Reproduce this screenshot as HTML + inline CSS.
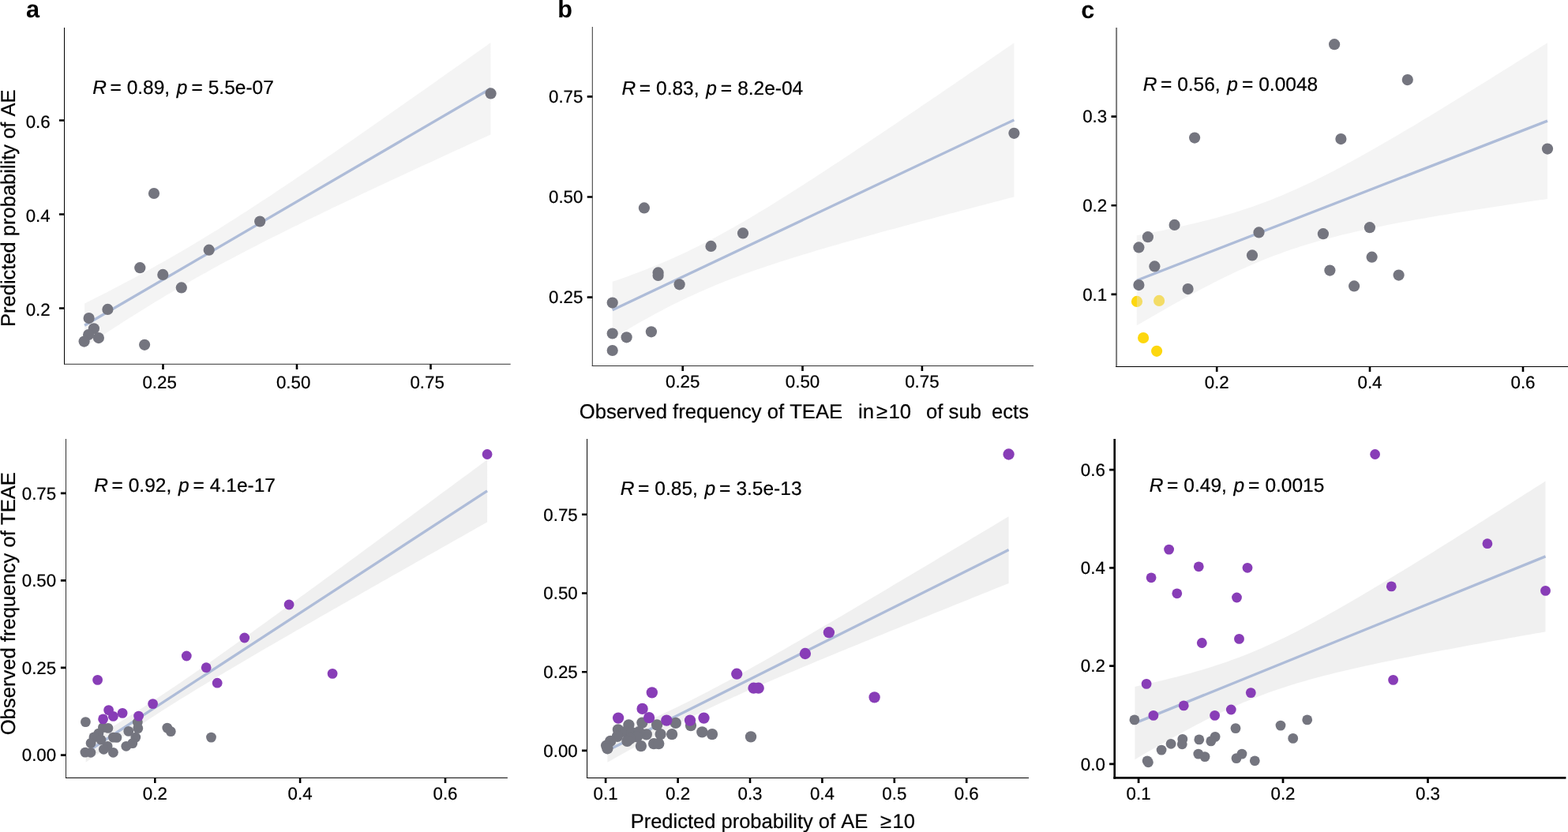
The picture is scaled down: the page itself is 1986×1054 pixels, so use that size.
<!DOCTYPE html>
<html lang="en"><head><meta charset="utf-8"><title>Correlation of predicted AE probability and observed TEAE frequency</title>
<style>
html,body{margin:0;padding:0;background:#fff;}
body{width:1986px;height:1054px;overflow:hidden;}
svg{display:block;font-family:"Liberation Sans",Arial,Helvetica,sans-serif;fill:#000;}
text{stroke:#000;stroke-width:0.22px;stroke-linejoin:round;text-rendering:geometricPrecision;font-kerning:none;font-variant-ligatures:none;}
.tick text{font-size:22.3px;}
.ann{font-size:24.5px;}
.it{font-style:italic;}
.title{font-size:25.5px;}
.lab{font-size:30.7px;font-weight:bold;stroke:none;}
</style></head><body>
<svg width="1986" height="1054" viewBox="0 0 1986 1054">
<rect width="1986" height="1054" fill="#fff"/>
<g id="panel-a">
<path d="M107.1 384.52 L113.53 381.29 L119.96 378.04 L126.39 374.77 L132.81 371.47 L139.24 368.16 L145.67 364.82 L152.1 361.45 L158.53 358.06 L164.96 354.65 L171.39 351.2 L177.82 347.73 L184.25 344.22 L190.67 340.69 L197.1 337.12 L203.53 333.52 L209.96 329.88 L216.39 326.21 L222.82 322.51 L229.25 318.77 L235.67 315 L242.1 311.19 L248.53 307.35 L254.96 303.47 L261.39 299.57 L267.82 295.62 L274.25 291.65 L280.68 287.65 L287.1 283.61 L293.53 279.55 L299.96 275.46 L306.39 271.34 L312.82 267.19 L319.25 263.03 L325.68 258.84 L332.11 254.62 L338.53 250.39 L344.96 246.14 L351.39 241.87 L357.82 237.58 L364.25 233.27 L370.68 228.95 L377.11 224.61 L383.54 220.26 L389.96 215.9 L396.39 211.53 L402.82 207.14 L409.25 202.74 L415.68 198.33 L422.11 193.91 L428.54 189.49 L434.97 185.05 L441.39 180.61 L447.82 176.16 L454.25 171.7 L460.68 167.23 L467.11 162.76 L473.54 158.28 L479.97 153.79 L486.4 149.3 L492.82 144.81 L499.25 140.31 L505.68 135.8 L512.11 131.29 L518.54 126.78 L524.97 122.26 L531.4 117.74 L537.83 113.21 L544.25 108.69 L550.68 104.15 L557.11 99.62 L563.54 95.08 L569.97 90.54 L576.4 86 L582.83 81.45 L589.26 76.9 L595.68 72.35 L602.11 67.79 L608.54 63.24 L614.97 58.68 L621.4 54.12 L621.4 170.48 L614.97 173.42 L608.54 176.36 L602.11 179.3 L595.68 182.24 L589.26 185.19 L582.83 188.14 L576.4 191.09 L569.97 194.04 L563.54 197 L557.11 199.96 L550.68 202.92 L544.25 205.88 L537.83 208.85 L531.4 211.82 L524.97 214.8 L518.54 217.78 L512.11 220.76 L505.68 223.75 L499.25 226.74 L492.82 229.74 L486.4 232.74 L479.97 235.75 L473.54 238.76 L467.11 241.78 L460.68 244.81 L454.25 247.84 L447.82 250.88 L441.39 253.92 L434.97 256.98 L428.54 260.04 L422.11 263.11 L415.68 266.19 L409.25 269.28 L402.82 272.38 L396.39 275.49 L389.96 278.61 L383.54 281.74 L377.11 284.89 L370.68 288.05 L364.25 291.23 L357.82 294.42 L351.39 297.63 L344.96 300.85 L338.53 304.1 L332.11 307.36 L325.68 310.65 L319.25 313.96 L312.82 317.29 L306.39 320.64 L299.96 324.02 L293.53 327.43 L287.1 330.86 L280.68 334.32 L274.25 337.82 L267.82 341.34 L261.39 344.89 L254.96 348.48 L248.53 352.1 L242.1 355.76 L235.67 359.45 L229.25 363.17 L222.82 366.93 L216.39 370.73 L209.96 374.56 L203.53 378.42 L197.1 382.32 L190.67 386.25 L184.25 390.21 L177.82 394.2 L171.39 398.22 L164.96 402.28 L158.53 406.36 L152.1 410.46 L145.67 414.6 L139.24 418.76 L132.81 422.94 L126.39 427.14 L119.96 431.37 L113.53 435.61 L107.1 439.88Z" fill="rgba(228,228,228,0.41)"/>
<line x1="107.1" y1="412.2" x2="621.4" y2="112.3" stroke="#aebcd8" stroke-width="3.3"/>
<g fill="#74757f"><circle cx="621.6" cy="118.4" r="7.1"/><circle cx="195" cy="245" r="7.1"/><circle cx="329.2" cy="280.5" r="7.1"/><circle cx="264.7" cy="316.7" r="7.1"/><circle cx="177.3" cy="339.2" r="7.1"/><circle cx="206.3" cy="347.9" r="7.1"/><circle cx="229.8" cy="364.4" r="7.1"/><circle cx="136.4" cy="391.9" r="7.1"/><circle cx="112.6" cy="403.1" r="7.1"/><circle cx="118.9" cy="416.3" r="7.1"/><circle cx="112.1" cy="424.1" r="7.1"/><circle cx="124.9" cy="428.1" r="7.1"/><circle cx="106.6" cy="432.6" r="7.1"/><circle cx="183.1" cy="436.8" r="7.1"/></g>
<line x1="81.5" y1="35" x2="81.5" y2="461.8" stroke="#000" stroke-width="1"/>
<line x1="81" y1="461.3" x2="646.7" y2="461.3" stroke="#333" stroke-width="1"/>
<path d="M206.5 461.3v6.6M376 461.3v6.6M545.5 461.3v6.6M81.5 152.5h-6.6M81.5 271.5h-6.6M81.5 390.5h-6.6" stroke="#000" stroke-width="2.6" fill="none"/>
<g class="tick" text-anchor="middle">
<text transform="translate(202.1 492.3) scale(1 1.0)">0.25</text>
<text transform="translate(371.6 492.3) scale(1 1.0)">0.50</text>
<text transform="translate(541.1 492.3) scale(1 1.0)">0.75</text>
</g>
<g class="tick" text-anchor="end">
<text transform="translate(63.7 162.3) scale(1 1.0)">0.6</text>
<text transform="translate(63.7 281.3) scale(1 1.0)">0.4</text>
<text transform="translate(63.7 400.3) scale(1 1.0)">0.2</text>
</g>
<text class="ann" transform="translate(0 119.3) scale(1 1.0)"><tspan class="it" x="117.14">R</tspan><tspan x="139.4">=</tspan><tspan x="160.64">0.89,</tspan><tspan class="it" x="223.81">p</tspan><tspan x="242.4">=</tspan><tspan x="263.74">5.5e-07</tspan></text>
</g>
<g id="panel-b">
<path d="M775.7 356.85 L782.06 354.66 L788.42 352.42 L794.78 350.14 L801.13 347.81 L807.49 345.43 L813.85 343.01 L820.21 340.52 L826.57 337.99 L832.93 335.39 L839.29 332.73 L845.65 330 L852.01 327.21 L858.36 324.35 L864.72 321.43 L871.08 318.43 L877.44 315.36 L883.8 312.23 L890.16 309.02 L896.52 305.75 L902.88 302.41 L909.23 299.02 L915.59 295.56 L921.95 292.04 L928.31 288.46 L934.67 284.84 L941.03 281.16 L947.39 277.44 L953.75 273.67 L960.1 269.86 L966.46 266.02 L972.82 262.14 L979.18 258.22 L985.54 254.28 L991.9 250.3 L998.26 246.3 L1004.62 242.27 L1010.97 238.22 L1017.33 234.15 L1023.69 230.06 L1030.05 225.95 L1036.41 221.82 L1042.77 217.68 L1049.13 213.52 L1055.49 209.34 L1061.84 205.16 L1068.2 200.96 L1074.56 196.75 L1080.92 192.53 L1087.28 188.3 L1093.64 184.06 L1100 179.81 L1106.36 175.55 L1112.71 171.29 L1119.07 167.02 L1125.43 162.74 L1131.79 158.45 L1138.15 154.16 L1144.51 149.87 L1150.87 145.56 L1157.23 141.25 L1163.58 136.94 L1169.94 132.62 L1176.3 128.3 L1182.66 123.98 L1189.02 119.65 L1195.38 115.31 L1201.74 110.98 L1208.1 106.64 L1214.45 102.29 L1220.81 97.95 L1227.17 93.6 L1233.53 89.24 L1239.89 84.89 L1246.25 80.53 L1252.61 76.17 L1258.97 71.81 L1265.32 67.45 L1271.68 63.08 L1278.04 58.71 L1284.4 54.34 L1284.4 249.46 L1278.04 251.11 L1271.68 252.77 L1265.32 254.42 L1258.97 256.08 L1252.61 257.74 L1246.25 259.4 L1239.89 261.07 L1233.53 262.74 L1227.17 264.41 L1220.81 266.08 L1214.45 267.75 L1208.1 269.43 L1201.74 271.12 L1195.38 272.8 L1189.02 274.49 L1182.66 276.18 L1176.3 277.88 L1169.94 279.58 L1163.58 281.29 L1157.23 283 L1150.87 284.71 L1144.51 286.43 L1138.15 288.16 L1131.79 289.89 L1125.43 291.62 L1119.07 293.37 L1112.71 295.12 L1106.36 296.88 L1100 298.64 L1093.64 300.42 L1087.28 302.2 L1080.92 303.99 L1074.56 305.79 L1068.2 307.6 L1061.84 309.43 L1055.49 311.27 L1049.13 313.11 L1042.77 314.98 L1036.41 316.86 L1030.05 318.75 L1023.69 320.66 L1017.33 322.6 L1010.97 324.55 L1004.62 326.52 L998.26 328.51 L991.9 330.53 L985.54 332.58 L979.18 334.66 L972.82 336.77 L966.46 338.91 L960.1 341.08 L953.75 343.3 L947.39 345.55 L941.03 347.85 L934.67 350.2 L928.31 352.6 L921.95 355.05 L915.59 357.55 L909.23 360.11 L902.88 362.74 L896.52 365.42 L890.16 368.17 L883.8 370.99 L877.44 373.88 L871.08 376.83 L864.72 379.86 L858.36 382.95 L852.01 386.12 L845.65 389.35 L839.29 392.65 L832.93 396.01 L826.57 399.43 L820.21 402.92 L813.85 406.46 L807.49 410.06 L801.13 413.7 L794.78 417.4 L788.42 421.14 L782.06 424.92 L775.7 428.75Z" fill="rgba(228,228,228,0.41)"/>
<line x1="775.7" y1="392.8" x2="1284.4" y2="151.9" stroke="#aebcd8" stroke-width="3.3"/>
<g fill="#74757f"><circle cx="1284.4" cy="168.8" r="7.1"/><circle cx="815.9" cy="263.4" r="7.1"/><circle cx="941" cy="295.4" r="7.1"/><circle cx="900.5" cy="311.9" r="7.1"/><circle cx="833.6" cy="345.4" r="7.1"/><circle cx="833.6" cy="348.9" r="7.1"/><circle cx="860.6" cy="360.3" r="7.1"/><circle cx="775.7" cy="383.6" r="7.1"/><circle cx="775.7" cy="422.5" r="7.1"/><circle cx="793.6" cy="427.3" r="7.1"/><circle cx="824.9" cy="420.3" r="7.1"/><circle cx="775.7" cy="444" r="7.1"/></g>
<line x1="750.3" y1="34" x2="750.3" y2="464" stroke="#333" stroke-width="1"/>
<line x1="749.8" y1="463.5" x2="1309.1" y2="463.5" stroke="#333" stroke-width="1"/>
<path d="M864.7 463.5v6.6M1016.5 463.5v6.6M1167.9 463.5v6.6M750.3 122.4h-6.6M750.3 249.5h-6.6M750.3 376.6h-6.6" stroke="#000" stroke-width="2.6" fill="none"/>
<g class="tick" text-anchor="middle">
<text transform="translate(864.7 491.2) scale(1 1.0)">0.25</text>
<text transform="translate(1016.5 491.2) scale(1 1.0)">0.50</text>
<text transform="translate(1167.9 491.2) scale(1 1.0)">0.75</text>
</g>
<g class="tick" text-anchor="end">
<text transform="translate(738.4 130.2) scale(1 1.0)">0.75</text>
<text transform="translate(738.4 257.3) scale(1 1.0)">0.50</text>
<text transform="translate(738.4 384.4) scale(1 1.0)">0.25</text>
</g>
<text class="ann" transform="translate(0 119.6) scale(1 1.0)"><tspan class="it" x="787.54">R</tspan><tspan x="809.8">=</tspan><tspan x="831.04">0.83,</tspan><tspan class="it" x="894.21">p</tspan><tspan x="912.8">=</tspan><tspan x="934.14">8.2e-04</tspan></text>
</g>
<g id="panel-c">
<g fill="#fdd70e"><circle cx="1440" cy="381.9" r="7.1"/><circle cx="1468.1" cy="380.9" r="7.1"/><circle cx="1448.1" cy="428" r="7.1"/><circle cx="1465.1" cy="444.8" r="7.1"/></g>
<path d="M1439.9 298.26 L1446.4 297.04 L1452.9 295.79 L1459.4 294.52 L1465.91 293.23 L1472.41 291.91 L1478.91 290.56 L1485.41 289.18 L1491.91 287.76 L1498.41 286.31 L1504.91 284.82 L1511.41 283.29 L1517.91 281.72 L1524.42 280.1 L1530.92 278.43 L1537.42 276.7 L1543.92 274.92 L1550.42 273.08 L1556.92 271.18 L1563.42 269.21 L1569.93 267.18 L1576.43 265.07 L1582.93 262.89 L1589.43 260.63 L1595.93 258.29 L1602.43 255.88 L1608.93 253.38 L1615.43 250.81 L1621.93 248.16 L1628.44 245.43 L1634.94 242.62 L1641.44 239.73 L1647.94 236.77 L1654.44 233.74 L1660.94 230.64 L1667.44 227.48 L1673.95 224.25 L1680.45 220.97 L1686.95 217.63 L1693.45 214.24 L1699.95 210.79 L1706.45 207.31 L1712.95 203.77 L1719.45 200.2 L1725.95 196.59 L1732.46 192.95 L1738.96 189.27 L1745.46 185.56 L1751.96 181.82 L1758.46 178.05 L1764.96 174.26 L1771.46 170.45 L1777.97 166.62 L1784.47 162.76 L1790.97 158.89 L1797.47 155 L1803.97 151.09 L1810.47 147.16 L1816.97 143.23 L1823.47 139.27 L1829.97 135.31 L1836.48 131.33 L1842.98 127.35 L1849.48 123.35 L1855.98 119.34 L1862.48 115.33 L1868.98 111.3 L1875.48 107.27 L1881.99 103.23 L1888.49 99.18 L1894.99 95.12 L1901.49 91.06 L1907.99 86.99 L1914.49 82.92 L1920.99 78.84 L1927.49 74.75 L1933.99 70.66 L1940.5 66.57 L1947 62.47 L1953.5 58.36 L1960 54.25 L1960 251.95 L1953.5 252.89 L1947 253.84 L1940.5 254.8 L1933.99 255.76 L1927.49 256.72 L1920.99 257.69 L1914.49 258.67 L1907.99 259.65 L1901.49 260.64 L1894.99 261.63 L1888.49 262.63 L1881.99 263.63 L1875.48 264.65 L1868.98 265.67 L1862.48 266.7 L1855.98 267.74 L1849.48 268.78 L1842.98 269.84 L1836.48 270.91 L1829.97 271.99 L1823.47 273.08 L1816.97 274.18 L1810.47 275.3 L1803.97 276.43 L1797.47 277.58 L1790.97 278.74 L1784.47 279.92 L1777.97 281.12 L1771.46 282.34 L1764.96 283.59 L1758.46 284.85 L1751.96 286.14 L1745.46 287.46 L1738.96 288.8 L1732.46 290.18 L1725.95 291.59 L1719.45 293.03 L1712.95 294.52 L1706.45 296.04 L1699.95 297.61 L1693.45 299.22 L1686.95 300.88 L1680.45 302.6 L1673.95 304.37 L1667.44 306.2 L1660.94 308.09 L1654.44 310.04 L1647.94 312.07 L1641.44 314.16 L1634.94 316.33 L1628.44 318.58 L1621.93 320.9 L1615.43 323.3 L1608.93 325.79 L1602.43 328.35 L1595.93 330.99 L1589.43 333.71 L1582.93 336.5 L1576.43 339.38 L1569.93 342.32 L1563.42 345.34 L1556.92 348.43 L1550.42 351.58 L1543.92 354.8 L1537.42 358.07 L1530.92 361.4 L1524.42 364.79 L1517.91 368.22 L1511.41 371.7 L1504.91 375.23 L1498.41 378.79 L1491.91 382.4 L1485.41 386.04 L1478.91 389.71 L1472.41 393.42 L1465.91 397.15 L1459.4 400.91 L1452.9 404.7 L1446.4 408.51 L1439.9 412.34Z" fill="rgba(228,228,228,0.41)"/>
<line x1="1439.9" y1="355.3" x2="1960" y2="153.1" stroke="#aebcd8" stroke-width="3.3"/>
<g fill="#74757f"><circle cx="1690.1" cy="56.2" r="7.1"/><circle cx="1782.8" cy="101.1" r="7.1"/><circle cx="1513.1" cy="174.6" r="7.1"/><circle cx="1698.4" cy="176.1" r="7.1"/><circle cx="1960" cy="188.6" r="7.1"/><circle cx="1487.6" cy="284.9" r="7.1"/><circle cx="1453.9" cy="300.2" r="7.1"/><circle cx="1442.4" cy="313.4" r="7.1"/><circle cx="1462.4" cy="337.4" r="7.1"/><circle cx="1442.4" cy="361.1" r="7.1"/><circle cx="1504.6" cy="366.1" r="7.1"/><circle cx="1594.5" cy="294.4" r="7.1"/><circle cx="1586" cy="323.4" r="7.1"/><circle cx="1675.9" cy="296.2" r="7.1"/><circle cx="1734.9" cy="288.2" r="7.1"/><circle cx="1737.6" cy="325.7" r="7.1"/><circle cx="1684.4" cy="342.6" r="7.1"/><circle cx="1715.1" cy="362.4" r="7.1"/><circle cx="1771.6" cy="348.6" r="7.1"/></g>
<line x1="1414.1" y1="35" x2="1414.1" y2="465" stroke="#7a7a7a" stroke-width="2.0"/>
<line x1="1413.1" y1="464.5" x2="1986" y2="464.5" stroke="#000" stroke-width="1"/>
<path d="M1541.2 464.5v6.6M1735 464.5v6.6M1929 464.5v6.6M1414.1 147.6h-6.6M1414.1 260.2h-6.6M1414.1 372.9h-6.6" stroke="#000" stroke-width="2.6" fill="none"/>
<g class="tick" text-anchor="middle">
<text transform="translate(1541.2 492.2) scale(1 1.0)">0.2</text>
<text transform="translate(1735 492.2) scale(1 1.0)">0.4</text>
<text transform="translate(1929 492.2) scale(1 1.0)">0.6</text>
</g>
<g class="tick" text-anchor="end">
<text transform="translate(1402.2 155.4) scale(1 1.0)">0.3</text>
<text transform="translate(1402.2 268) scale(1 1.0)">0.2</text>
<text transform="translate(1402.2 380.7) scale(1 1.0)">0.1</text>
</g>
<text class="ann" transform="translate(0 114.6) scale(1 1.0)"><tspan class="it" x="1447.64">R</tspan><tspan x="1469.9">=</tspan><tspan x="1491.14">0.56,</tspan><tspan class="it" x="1554.31">p</tspan><tspan x="1572.9">=</tspan><tspan x="1594.24">0.0048</tspan></text>
</g>
<g id="panel-d">
<path d="M108.6 941.25 L114.96 937.42 L121.31 933.58 L127.67 929.72 L134.03 925.84 L140.38 921.93 L146.74 918 L153.09 914.04 L159.45 910.05 L165.81 906.04 L172.16 901.99 L178.52 897.91 L184.88 893.8 L191.23 889.66 L197.59 885.49 L203.94 881.28 L210.3 877.04 L216.66 872.78 L223.01 868.48 L229.37 864.15 L235.72 859.8 L242.08 855.42 L248.44 851.02 L254.79 846.6 L261.15 842.15 L267.51 837.69 L273.86 833.21 L280.22 828.71 L286.57 824.2 L292.93 819.67 L299.29 815.13 L305.64 810.58 L312 806.02 L318.36 801.45 L324.71 796.87 L331.07 792.28 L337.42 787.69 L343.78 783.08 L350.14 778.47 L356.49 773.86 L362.85 769.24 L369.21 764.61 L375.56 759.98 L381.92 755.35 L388.27 750.71 L394.63 746.07 L400.99 741.42 L407.34 736.77 L413.7 732.12 L420.06 727.46 L426.41 722.81 L432.77 718.15 L439.12 713.48 L445.48 708.82 L451.84 704.15 L458.19 699.48 L464.55 694.81 L470.91 690.14 L477.26 685.47 L483.62 680.79 L489.98 676.12 L496.33 671.44 L502.69 666.76 L509.04 662.08 L515.4 657.4 L521.76 652.71 L528.11 648.03 L534.47 643.34 L540.83 638.66 L547.18 633.97 L553.54 629.28 L559.89 624.6 L566.25 619.91 L572.61 615.22 L578.96 610.53 L585.32 605.84 L591.67 601.14 L598.03 596.45 L604.39 591.76 L610.74 587.07 L617.1 582.37 L617.1 661.43 L610.74 665.02 L604.39 668.62 L598.03 672.22 L591.67 675.82 L585.32 679.41 L578.96 683.01 L572.61 686.61 L566.25 690.21 L559.89 693.81 L553.54 697.42 L547.18 701.02 L540.83 704.62 L534.47 708.23 L528.11 711.83 L521.76 715.44 L515.4 719.04 L509.04 722.65 L502.69 726.26 L496.33 729.87 L489.98 733.48 L483.62 737.1 L477.26 740.71 L470.91 744.33 L464.55 747.95 L458.19 751.57 L451.84 755.19 L445.48 758.81 L439.12 762.44 L432.77 766.06 L426.41 769.69 L420.06 773.33 L413.7 776.96 L407.34 780.6 L400.99 784.24 L394.63 787.88 L388.27 791.53 L381.92 795.18 L375.56 798.84 L369.21 802.5 L362.85 806.16 L356.49 809.83 L350.14 813.51 L343.78 817.19 L337.42 820.87 L331.07 824.57 L324.71 828.27 L318.36 831.98 L312 835.7 L305.64 839.43 L299.29 843.17 L292.93 846.92 L286.57 850.68 L280.22 854.46 L273.86 858.25 L267.51 862.06 L261.15 865.89 L254.79 869.73 L248.44 873.6 L242.08 877.49 L235.72 881.4 L229.37 885.34 L223.01 889.3 L216.66 893.29 L210.3 897.32 L203.94 901.37 L197.59 905.45 L191.23 909.57 L184.88 913.72 L178.52 917.9 L172.16 922.11 L165.81 926.35 L159.45 930.63 L153.09 934.93 L146.74 939.26 L140.38 943.62 L134.03 948 L127.67 952.41 L121.31 956.84 L114.96 961.29 L108.6 965.75Z" fill="rgba(218,218,218,0.41)"/>
<line x1="108.6" y1="953.5" x2="617.1" y2="621.9" stroke="#aebcd8" stroke-width="3.3"/>
<g fill="#74757f"><circle cx="108.4" cy="914.6" r="6.4"/><circle cx="174.3" cy="915.1" r="6.4"/><circle cx="130.4" cy="921.6" r="6.4"/><circle cx="136.9" cy="922.4" r="6.4"/><circle cx="174.8" cy="922.6" r="6.4"/><circle cx="211.8" cy="922.1" r="6.4"/><circle cx="216.3" cy="926.6" r="6.4"/><circle cx="162.8" cy="926.4" r="6.4"/><circle cx="124.9" cy="929.1" r="6.4"/><circle cx="118.9" cy="933.9" r="6.4"/><circle cx="143.4" cy="934.1" r="6.4"/><circle cx="147.9" cy="934.4" r="6.4"/><circle cx="171.8" cy="934.1" r="6.4"/><circle cx="267.5" cy="934.1" r="6.4"/><circle cx="127.9" cy="937.1" r="6.4"/><circle cx="115.1" cy="941.4" r="6.4"/><circle cx="167.8" cy="941.6" r="6.4"/><circle cx="159.8" cy="945.3" r="6.4"/><circle cx="136.1" cy="945.3" r="6.4"/><circle cx="131.4" cy="949.3" r="6.4"/><circle cx="107.9" cy="953.1" r="6.4"/><circle cx="114.9" cy="953.3" r="6.4"/><circle cx="143.4" cy="953.3" r="6.4"/></g>
<g fill="#883db7"><circle cx="617.1" cy="575.5" r="6.4"/><circle cx="366.1" cy="766" r="6.4"/><circle cx="309.7" cy="808" r="6.4"/><circle cx="236.3" cy="831" r="6.4"/><circle cx="261.2" cy="845.7" r="6.4"/><circle cx="275.2" cy="865.2" r="6.4"/><circle cx="421.1" cy="853.4" r="6.4"/><circle cx="123.6" cy="861.4" r="6.4"/><circle cx="193.6" cy="891.6" r="6.4"/><circle cx="137.6" cy="899.6" r="6.4"/><circle cx="155.1" cy="903.4" r="6.4"/><circle cx="143.4" cy="907.4" r="6.4"/><circle cx="175.6" cy="907.1" r="6.4"/><circle cx="130.6" cy="910.9" r="6.4"/></g>
<line x1="83.5" y1="556" x2="83.5" y2="985.9" stroke="#333" stroke-width="1"/>
<line x1="83" y1="985.4" x2="642.9" y2="985.4" stroke="#000" stroke-width="1"/>
<path d="M196.3 985.4v6.6M380.1 985.4v6.6M564 985.4v6.6M83.5 624.9h-6.6M83.5 735.4h-6.6M83.5 845.9h-6.6M83.5 956.6h-6.6" stroke="#000" stroke-width="2.6" fill="none"/>
<g class="tick" text-anchor="middle">
<text transform="translate(196.3 1013.1) scale(1 1.0)">0.2</text>
<text transform="translate(380.1 1013.1) scale(1 1.0)">0.4</text>
<text transform="translate(564 1013.1) scale(1 1.0)">0.6</text>
</g>
<g class="tick" text-anchor="end">
<text transform="translate(71.15 632.75) scale(1 1.0)">0.75</text>
<text transform="translate(71.15 743.25) scale(1 1.0)">0.50</text>
<text transform="translate(71.15 853.75) scale(1 1.0)">0.25</text>
<text transform="translate(71.15 964.45) scale(1 1.0)">0.00</text>
</g>
<text class="ann" transform="translate(0 623.2) scale(1 1.0)"><tspan class="it" x="119.24">R</tspan><tspan x="141.5">=</tspan><tspan x="162.74">0.92,</tspan><tspan class="it" x="225.91">p</tspan><tspan x="244.5">=</tspan><tspan x="265.84">4.1e-17</tspan></text>
</g>
<g id="panel-e">
<path d="M769.4 935.8 L775.75 933.06 L782.11 930.31 L788.46 927.54 L794.81 924.75 L801.16 921.94 L807.51 919.1 L813.87 916.25 L820.22 913.36 L826.57 910.45 L832.92 907.51 L839.28 904.54 L845.63 901.54 L851.98 898.5 L858.33 895.42 L864.69 892.31 L871.04 889.16 L877.39 885.97 L883.75 882.74 L890.1 879.48 L896.45 876.18 L902.8 872.84 L909.15 869.47 L915.51 866.07 L921.86 862.64 L928.21 859.18 L934.56 855.69 L940.92 852.18 L947.27 848.65 L953.62 845.09 L959.97 841.52 L966.33 837.92 L972.68 834.31 L979.03 830.69 L985.38 827.05 L991.74 823.4 L998.09 819.74 L1004.44 816.07 L1010.79 812.39 L1017.15 808.7 L1023.5 805 L1029.85 801.3 L1036.2 797.59 L1042.56 793.87 L1048.91 790.15 L1055.26 786.42 L1061.62 782.68 L1067.97 778.95 L1074.32 775.2 L1080.67 771.46 L1087.02 767.71 L1093.38 763.95 L1099.73 760.2 L1106.08 756.44 L1112.43 752.67 L1118.79 748.91 L1125.14 745.14 L1131.49 741.37 L1137.84 737.6 L1144.2 733.83 L1150.55 730.05 L1156.9 726.28 L1163.25 722.5 L1169.61 718.72 L1175.96 714.93 L1182.31 711.15 L1188.66 707.37 L1195.02 703.58 L1201.37 699.79 L1207.72 696 L1214.07 692.22 L1220.43 688.42 L1226.78 684.63 L1233.13 680.84 L1239.48 677.05 L1245.84 673.25 L1252.19 669.46 L1258.54 665.66 L1264.89 661.87 L1271.25 658.07 L1277.6 654.27 L1277.6 738.93 L1271.25 741.48 L1264.89 744.04 L1258.54 746.6 L1252.19 749.16 L1245.84 751.72 L1239.48 754.28 L1233.13 756.84 L1226.78 759.41 L1220.43 761.97 L1214.07 764.53 L1207.72 767.1 L1201.37 769.67 L1195.02 772.24 L1188.66 774.8 L1182.31 777.37 L1175.96 779.95 L1169.61 782.52 L1163.25 785.09 L1156.9 787.67 L1150.55 790.25 L1144.2 792.83 L1137.84 795.41 L1131.49 797.99 L1125.14 800.58 L1118.79 803.17 L1112.43 805.76 L1106.08 808.35 L1099.73 810.94 L1093.38 813.54 L1087.02 816.14 L1080.67 818.75 L1074.32 821.36 L1067.97 823.97 L1061.62 826.59 L1055.26 829.21 L1048.91 831.83 L1042.56 834.47 L1036.2 837.1 L1029.85 839.75 L1023.5 842.4 L1017.15 845.05 L1010.79 847.72 L1004.44 850.39 L998.09 853.08 L991.74 855.77 L985.38 858.48 L979.03 861.19 L972.68 863.93 L966.33 866.67 L959.97 869.43 L953.62 872.21 L947.27 875.01 L940.92 877.83 L934.56 880.68 L928.21 883.55 L921.86 886.44 L915.51 889.36 L909.15 892.32 L902.8 895.3 L896.45 898.32 L890.1 901.37 L883.75 904.47 L877.39 907.59 L871.04 910.76 L864.69 913.97 L858.33 917.21 L851.98 920.49 L845.63 923.8 L839.28 927.15 L832.92 930.54 L826.57 933.95 L820.22 937.4 L813.87 940.87 L807.51 944.37 L801.16 947.89 L794.81 951.43 L788.46 955 L782.11 958.58 L775.75 962.18 L769.4 965.8Z" fill="rgba(218,218,218,0.41)"/>
<line x1="769.4" y1="950.8" x2="1277.6" y2="696.6" stroke="#aebcd8" stroke-width="3.3"/>
<g fill="#74757f"><circle cx="855.8" cy="915.9" r="7.15"/><circle cx="813.4" cy="915.6" r="7.15"/><circle cx="832.1" cy="918.4" r="7.15"/><circle cx="796.4" cy="918.4" r="7.15"/><circle cx="875" cy="919.1" r="7.15"/><circle cx="782.9" cy="924.4" r="7.15"/><circle cx="889.3" cy="927.4" r="7.15"/><circle cx="902" cy="930.1" r="7.15"/><circle cx="851.1" cy="930.1" r="7.15"/><circle cx="836.6" cy="930.1" r="7.15"/><circle cx="818.8" cy="930.4" r="7.15"/><circle cx="951" cy="933.4" r="7.15"/><circle cx="791.9" cy="927.1" r="7.15"/><circle cx="800.6" cy="928.4" r="7.15"/><circle cx="809.4" cy="927.1" r="7.15"/><circle cx="806.9" cy="933.4" r="7.15"/><circle cx="781.9" cy="932.9" r="7.15"/><circle cx="798.1" cy="935.9" r="7.15"/><circle cx="794.4" cy="938.9" r="7.15"/><circle cx="773.1" cy="938.9" r="7.15"/><circle cx="811.9" cy="945.1" r="7.15"/><circle cx="828.1" cy="942.1" r="7.15"/><circle cx="834.3" cy="942.1" r="7.15"/><circle cx="768.1" cy="944.6" r="7.15"/><circle cx="769.4" cy="948.3" r="7.15"/></g>
<g fill="#883db7"><circle cx="1277.6" cy="575.5" r="7.15"/><circle cx="1049.9" cy="801.2" r="7.15"/><circle cx="1019.9" cy="828" r="7.15"/><circle cx="933.2" cy="853.7" r="7.15"/><circle cx="954.5" cy="871.7" r="7.15"/><circle cx="960.7" cy="871.7" r="7.15"/><circle cx="1107.6" cy="883.4" r="7.15"/><circle cx="825.8" cy="877.4" r="7.15"/><circle cx="813.6" cy="897.9" r="7.15"/><circle cx="783.1" cy="909.6" r="7.15"/><circle cx="822.1" cy="909.1" r="7.15"/><circle cx="844.3" cy="912.6" r="7.15"/><circle cx="874" cy="912.6" r="7.15"/><circle cx="891.5" cy="909.6" r="7.15"/></g>
<line x1="743.6" y1="556" x2="743.6" y2="986" stroke="#000" stroke-width="1"/>
<line x1="743.1" y1="985.5" x2="1303" y2="985.5" stroke="#000" stroke-width="1"/>
<path d="M767.1 985.5v6.6M858.6 985.5v6.6M950 985.5v6.6M1041.4 985.5v6.6M1132.8 985.5v6.6M1224.2 985.5v6.6M743.6 651.8h-6.6M743.6 751.5h-6.6M743.6 851.2h-6.6M743.6 950.9h-6.6" stroke="#000" stroke-width="2.6" fill="none"/>
<g class="tick" text-anchor="middle">
<text transform="translate(767.1 1013.2) scale(1 1.0)">0.1</text>
<text transform="translate(858.6 1013.2) scale(1 1.0)">0.2</text>
<text transform="translate(950 1013.2) scale(1 1.0)">0.3</text>
<text transform="translate(1041.4 1013.2) scale(1 1.0)">0.4</text>
<text transform="translate(1132.8 1013.2) scale(1 1.0)">0.5</text>
<text transform="translate(1224.2 1013.2) scale(1 1.0)">0.6</text>
</g>
<g class="tick" text-anchor="end">
<text transform="translate(731.7 659.6) scale(1 1.0)">0.75</text>
<text transform="translate(731.7 759.3) scale(1 1.0)">0.50</text>
<text transform="translate(731.7 859) scale(1 1.0)">0.25</text>
<text transform="translate(731.7 958.7) scale(1 1.0)">0.00</text>
</g>
<text class="ann" transform="translate(0 626.6) scale(1 1.0)"><tspan class="it" x="785.84">R</tspan><tspan x="808.1">=</tspan><tspan x="829.34">0.85,</tspan><tspan class="it" x="892.51">p</tspan><tspan x="911.1">=</tspan><tspan x="932.44">3.5e-13</tspan></text>
</g>
<g id="panel-f">
<path d="M1437.4 869.99 L1443.9 868.55 L1450.4 867.08 L1456.9 865.59 L1463.41 864.07 L1469.91 862.51 L1476.41 860.93 L1482.91 859.31 L1489.41 857.65 L1495.91 855.95 L1502.41 854.2 L1508.91 852.4 L1515.41 850.56 L1521.92 848.65 L1528.42 846.69 L1534.92 844.66 L1541.42 842.57 L1547.92 840.4 L1554.42 838.16 L1560.92 835.85 L1567.43 833.45 L1573.93 830.97 L1580.43 828.41 L1586.93 825.77 L1593.43 823.04 L1599.93 820.23 L1606.43 817.33 L1612.93 814.36 L1619.43 811.31 L1625.94 808.19 L1632.44 805 L1638.94 801.73 L1645.44 798.41 L1651.94 795.03 L1658.44 791.59 L1664.94 788.1 L1671.45 784.56 L1677.95 780.98 L1684.45 777.35 L1690.95 773.69 L1697.45 769.99 L1703.95 766.26 L1710.45 762.5 L1716.95 758.71 L1723.45 754.89 L1729.96 751.05 L1736.46 747.19 L1742.96 743.31 L1749.46 739.41 L1755.96 735.49 L1762.46 731.56 L1768.96 727.61 L1775.47 723.65 L1781.97 719.67 L1788.47 715.68 L1794.97 711.68 L1801.47 707.67 L1807.97 703.66 L1814.47 699.63 L1820.97 695.59 L1827.47 691.54 L1833.98 687.49 L1840.48 683.43 L1846.98 679.37 L1853.48 675.29 L1859.98 671.22 L1866.48 667.13 L1872.98 663.04 L1879.49 658.95 L1885.99 654.85 L1892.49 650.75 L1898.99 646.64 L1905.49 642.53 L1911.99 638.42 L1918.49 634.3 L1924.99 630.18 L1931.49 626.05 L1938 621.92 L1944.5 617.79 L1951 613.66 L1957.5 609.52 L1957.5 800.28 L1951 801.42 L1944.5 802.57 L1938 803.72 L1931.49 804.87 L1924.99 806.02 L1918.49 807.18 L1911.99 808.34 L1905.49 809.51 L1898.99 810.68 L1892.49 811.85 L1885.99 813.03 L1879.49 814.21 L1872.98 815.4 L1866.48 816.59 L1859.98 817.78 L1853.48 818.99 L1846.98 820.19 L1840.48 821.41 L1833.98 822.63 L1827.47 823.86 L1820.97 825.09 L1814.47 826.33 L1807.97 827.58 L1801.47 828.85 L1794.97 830.12 L1788.47 831.4 L1781.97 832.69 L1775.47 833.99 L1768.96 835.31 L1762.46 836.64 L1755.96 837.99 L1749.46 839.35 L1742.96 840.73 L1736.46 842.13 L1729.96 843.55 L1723.45 844.99 L1716.95 846.45 L1710.45 847.94 L1703.95 849.46 L1697.45 851.01 L1690.95 852.59 L1684.45 854.21 L1677.95 855.86 L1671.45 857.56 L1664.94 859.3 L1658.44 861.09 L1651.94 862.93 L1645.44 864.83 L1638.94 866.79 L1632.44 868.8 L1625.94 870.89 L1619.43 873.05 L1612.93 875.28 L1606.43 877.59 L1599.93 879.97 L1593.43 882.44 L1586.93 884.99 L1580.43 887.63 L1573.93 890.35 L1567.43 893.15 L1560.92 896.03 L1554.42 899 L1547.92 902.04 L1541.42 905.15 L1534.92 908.34 L1528.42 911.59 L1521.92 914.91 L1515.41 918.28 L1508.91 921.72 L1502.41 925.2 L1495.91 928.73 L1489.41 932.31 L1482.91 935.93 L1476.41 939.59 L1469.91 943.29 L1463.41 947.01 L1456.9 950.77 L1450.4 954.56 L1443.9 958.37 L1437.4 962.21Z" fill="rgba(218,218,218,0.41)"/>
<line x1="1437.4" y1="916.1" x2="1957.5" y2="704.9" stroke="#aebcd8" stroke-width="3.3"/>
<g fill="#74757f"><circle cx="1436.9" cy="911.9" r="6.4"/><circle cx="1655.7" cy="911.9" r="6.4"/><circle cx="1622" cy="919.1" r="6.4"/><circle cx="1565" cy="922.6" r="6.4"/><circle cx="1637.7" cy="935.4" r="6.4"/><circle cx="1539.1" cy="933.4" r="6.4"/><circle cx="1497.8" cy="936.4" r="6.4"/><circle cx="1518.8" cy="936.9" r="6.4"/><circle cx="1533.8" cy="938.9" r="6.4"/><circle cx="1483.1" cy="942.3" r="6.4"/><circle cx="1497.3" cy="942.8" r="6.4"/><circle cx="1471.1" cy="950.1" r="6.4"/><circle cx="1517.8" cy="955.1" r="6.4"/><circle cx="1526.1" cy="958.6" r="6.4"/><circle cx="1573" cy="955.1" r="6.4"/><circle cx="1566" cy="960.6" r="6.4"/><circle cx="1589.3" cy="963.8" r="6.4"/><circle cx="1453.1" cy="963.8" r="6.4"/><circle cx="1454.4" cy="965.8" r="6.4"/></g>
<g fill="#883db7"><circle cx="1741.6" cy="575.5" r="6.4"/><circle cx="1480.6" cy="696.1" r="6.4"/><circle cx="1518.3" cy="717.8" r="6.4"/><circle cx="1580" cy="719.3" r="6.4"/><circle cx="1458.1" cy="731.8" r="6.4"/><circle cx="1490.8" cy="751.8" r="6.4"/><circle cx="1566.5" cy="757" r="6.4"/><circle cx="1762.3" cy="742.9" r="6.4"/><circle cx="1883.9" cy="688.7" r="6.4"/><circle cx="1957.5" cy="748.4" r="6.4"/><circle cx="1764.6" cy="861.4" r="6.4"/><circle cx="1569.5" cy="809.4" r="6.4"/><circle cx="1522.3" cy="814.5" r="6.4"/><circle cx="1452.1" cy="866.4" r="6.4"/><circle cx="1584.3" cy="877.6" r="6.4"/><circle cx="1499.3" cy="893.9" r="6.4"/><circle cx="1559.3" cy="899" r="6.4"/><circle cx="1460.9" cy="906.4" r="6.4"/><circle cx="1538.6" cy="906.4" r="6.4"/></g>
<line x1="1411.7" y1="556" x2="1411.7" y2="986.7" stroke="#000" stroke-width="2.6"/>
<line x1="1410.4" y1="985.4" x2="1983.4" y2="985.4" stroke="#000" stroke-width="2.6"/>
<path d="M1442.1 985.4v6.6M1625 985.4v6.6M1808.5 985.4v6.6M1411.7 595.2h-6.6M1411.7 719.4h-6.6M1411.7 843.6h-6.6M1411.7 967.8h-6.6" stroke="#000" stroke-width="2.7" fill="none"/>
<g class="tick" text-anchor="middle">
<text transform="translate(1442.1 1013.1) scale(1 1.0)">0.1</text>
<text transform="translate(1625 1013.1) scale(1 1.0)">0.2</text>
<text transform="translate(1808.5 1013.1) scale(1 1.0)">0.3</text>
</g>
<g class="tick" text-anchor="end">
<text transform="translate(1399.8 603) scale(1 1.0)">0.6</text>
<text transform="translate(1399.8 727.2) scale(1 1.0)">0.4</text>
<text transform="translate(1399.8 851.4) scale(1 1.0)">0.2</text>
<text transform="translate(1399.8 975.6) scale(1 1.0)">0.0</text>
</g>
<text class="ann" transform="translate(0 622.8) scale(1 1.0)"><tspan class="it" x="1455.84">R</tspan><tspan x="1478.1">=</tspan><tspan x="1499.34">0.49,</tspan><tspan class="it" x="1562.51">p</tspan><tspan x="1581.1">=</tspan><tspan x="1602.44">0.0015</tspan></text>
</g>
<text class="lab" transform="translate(33.0 21.6) scale(1 1.0)">a</text>
<text class="lab" transform="translate(706.2 22.3) scale(1 1.0)">b</text>
<text class="lab" transform="translate(1369.2 22.8) scale(1 1.0)">c</text>
<text class="title" text-anchor="middle" transform="translate(18.9 263.7) rotate(-90) scale(1 1.0)">Predicted probability of AE</text>
<text class="title" style="font-size:25.63px" text-anchor="middle" transform="translate(19.3 764.7) rotate(-90) scale(1 1.0)">Observed frequency of TEAE</text>
<text class="title" style="font-size:25.63px" transform="translate(0 530.2) scale(1 1.0)"><tspan x="733.8">Observed frequency of TEAE</tspan><tspan x="1087">in</tspan><tspan x="1110">≥</tspan><tspan x="1125.5">10</tspan><tspan x="1173.1">of sub</tspan><tspan x="1256">ects</tspan></text>
<text class="title" transform="translate(0 1048.5) scale(1 1.0)"><tspan x="798.7">Predicted probability of AE</tspan><tspan x="1115">≥</tspan><tspan x="1130.5">10</tspan></text>
</svg></body></html>
